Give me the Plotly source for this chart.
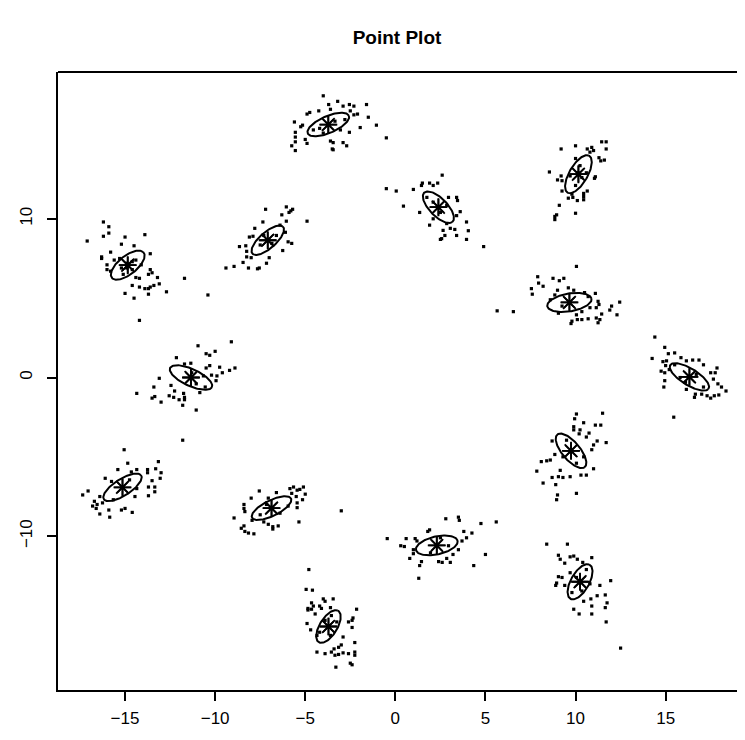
import numpy as np
import plotly.graph_objects as go

# ---- data ----
pts_01 = [(-4.0,17.75),(-3.7,17.2),(-3.2,17.4),(-2.9,17.1),(-2.55,17.2),(-2.3,17.1),(-1.6,17.2),(-2.5,16.8),
          (-2.1,16.6),(-2.3,16.55),(-1.5,16.4),(-4.9,16.6),(-4.75,16.7),(-4.25,16.8),(-3.6,16.9),(-5.6,16.1),
          (-5.15,15.9),(-5.25,15.8),(-5.55,15.45),(-5.55,15.15),(-5.0,15.0),(-5.55,14.85),(-5.75,14.6),(-5.55,14.3),
          (-4.9,14.75),(-3.6,14.9),(-3.45,14.8),(-2.9,14.8),(-2.7,14.6),(-3.5,14.4),(-3.45,14.35),(-2.55,15.45),
          (-1.95,15.75),(-1.05,15.9),(-0.5,15.1),(-4.55,15.6),(-4.2,15.7),(-3.35,16.15),(-3.05,15.6),(-4.0,15.4),
          (-2.8,16.25)]
pts_02 = [(10.0,14.6),(9.2,14.4),(10.65,14.4),(10.9,14.5),(11.0,14.3),(10.8,14.2),(11.45,14.85),(11.7,14.85),
          (11.7,14.4),(11.3,13.85),(11.4,13.65),(11.6,13.7),(10.0,13.8),(8.55,12.95),(9.2,12.7),(9.0,12.45),
          (9.25,12.4),(11.05,12.55),(11.1,12.65),(9.25,11.75),(9.8,11.55),(9.6,11.3),(9.85,11.35),(10.1,11.15),
          (10.45,11.4),(10.45,11.2),(10.45,11.6),(10.65,11.75),(9.1,10.85),(8.85,10.15),(8.95,10.25),(8.85,9.95),
          (10.0,10.35),(10.25,13.35),(10.35,12.6),(10.0,12.1),(9.7,12.7),(10.6,12.9),(10.15,12.9)]
pts_03 = [(2.6,12.75),(1.5,12.25),(1.45,12.1),(2.1,12.1),(2.35,12.25),(1.9,12.25),(-0.5,11.9),(0.05,11.75),
          (1.0,11.85),(0.45,10.8),(1.35,10.4),(1.75,11.35),(2.95,11.35),(3.4,11.35),(3.45,11.15),(3.6,10.45),
          (3.4,10.2),(1.9,9.6),(2.85,9.7),(3.05,9.4),(2.65,9.27),(3.3,9.33),(3.95,9.8),(4.05,9.25),(3.4,8.95),
          (2.75,8.95),(2.57,8.75),(2.5,8.7),(3.95,8.7),(4.9,8.25),(2.1,11.05),(2.5,10.4),(2.85,10.85),(2.1,10.0)]
pts_04 = [(-7.2,10.6),(-6.05,10.75),(-5.8,10.5),(-5.7,10.6),(-5.9,10.4),(-6.3,10.25),(-6.05,9.85),(-4.9,9.85),
          (-7.35,9.8),(-7.8,9.4),(-8.1,8.85),(-7.9,8.9),(-8.65,8.25),(-8.3,8.3),(-8.25,7.95),(-8.25,7.6),
          (-8.0,7.55),(-8.45,7.25),(-8.15,6.9),(-8.95,7.0),(-9.4,6.9),(-7.65,6.85),(-7.55,6.9),(-7.15,7.2),
          (-7.0,7.55),(-6.25,8.0),(-5.95,8.55),(-5.75,8.45),(-6.1,9.15),(-6.4,9.6),(-6.85,8.45),(-7.5,8.35),
          (-6.6,8.95),(-7.3,8.95),(-10.4,5.2)]
pts_05 = [(-16.2,9.8),(-15.9,9.5),(-15.9,9.1),(-16.2,8.9),(-17.1,8.6),(-15.0,8.85),(-13.9,9.0),(-15.2,8.4),
          (-14.5,8.3),(-15.8,7.9),(-16.3,7.6),(-16.3,7.5),(-16.0,6.8),(-15.8,6.7),(-16.0,7.1),(-15.6,7.4),
          (-15.3,7.5),(-13.6,7.8),(-13.6,6.8),(-13.5,6.6),(-13.7,6.5),(-13.2,6.3),(-11.7,6.25),(-13.1,5.9),
          (-13.4,5.8),(-13.6,5.7),(-13.7,5.6),(-13.9,5.6),(-14.2,5.7),(-14.6,5.8),(-12.7,5.4),(-15.0,5.3),
          (-13.7,5.25),(-14.5,5.0),(-14.2,6.25),(-14.4,6.3),(-15.1,6.5),(-14.6,7.3),(-14.4,7.4),(-14.1,7.1),
          (-14.9,6.9),(-14.9,7.2),(-14.6,6.8),(-15.2,6.9),(-14.2,3.6)]
pts_06 = [(10.05,7.0),(7.9,6.35),(7.95,5.95),(8.2,5.75),(8.75,6.25),(9.1,6.1),(9.35,6.25),(7.55,5.6),
          (7.6,5.25),(6.55,4.15),(5.65,4.2),(9.0,5.5),(9.6,5.65),(9.9,5.5),(10.5,5.35),(11.1,5.3),(8.6,4.9),
          (10.7,5.1),(11.25,4.8),(11.3,4.6),(10.8,4.4),(11.15,4.4),(12.0,4.5),(12.45,4.75),(11.9,4.25),
          (12.3,3.95),(11.45,4.0),(11.15,3.75),(11.35,3.65),(11.25,3.45),(10.7,3.7),(10.35,3.65),(10.1,3.65),
          (9.8,3.55),(9.75,3.4),(9.05,4.05),(10.05,3.95),(10.35,4.15),(9.25,4.5),(8.85,5.2)]
pts_07 = [(-10.95,2.0),(-9.1,2.25),(-10.5,1.5),(-10.3,1.4),(-10.0,1.65),(-12.15,1.25),(-11.35,0.9),(-11.7,0.85),
          (-10.3,0.75),(-10.5,0.6),(-9.75,0.65),(-9.2,0.45),(-8.9,0.6),(-9.6,0.3),(-9.9,0.1),(-10.2,0.15),
          (-9.95,-0.2),(-13.1,-0.05),(-13.4,-0.6),(-14.35,-1.0),(-13.35,-1.2),(-13.5,-1.3),(-13.0,-1.55),
          (-12.45,-0.5),(-12.25,-0.85),(-12.55,-1.15),(-12.3,-1.25),(-12.0,-1.4),(-11.75,-1.0),(-11.7,-1.25),
          (-11.7,-1.4),(-11.8,-1.75),(-11.05,-2.05),(-10.55,-0.6),(-10.85,-0.95),(-11.05,-0.4),(-11.3,0.3),
          (-10.65,0.1),(-11.8,-3.95)]
pts_08 = [(14.4,2.55),(14.95,1.9),(14.25,1.2),(15.15,1.5),(15.5,1.55),(15.85,1.25),(14.85,1.0),(15.05,1.05),
          (15.0,0.75),(15.2,0.5),(14.75,0.4),(14.95,0.3),(15.5,0.8),(16.15,1.05),(16.5,1.1),(16.85,1.1),
          (17.1,0.8),(14.95,-0.2),(14.9,-0.6),(17.5,0.3),(17.75,0.3),(17.85,0.6),(17.65,-0.1),(17.9,-0.4),
          (18.1,-0.6),(18.35,-0.85),(17.95,-1.1),(17.7,-1.15),(17.5,-1.3),(17.3,-1.15),(17.0,-1.05),
          (16.65,-1.05),(16.6,-1.25),(16.15,-0.75),(15.45,-2.5),(15.8,0.0),(16.7,0.2),(16.1,-0.3),(17.1,-0.6)]
pts_09 = [(10.05,-2.3),(9.95,-2.6),(11.5,-2.25),(10.45,-2.85),(9.9,-3.1),(9.9,-3.3),(10.25,-3.3),(11.1,-3.0),
          (11.4,-3.0),(10.75,-3.5),(10.2,-3.55),(10.6,-3.75),(8.7,-4.0),(11.2,-4.0),(11.7,-4.1),(11.0,-4.25),
          (10.9,-4.55),(8.85,-4.85),(8.1,-5.3),(8.4,-5.25),(8.6,-5.2),(7.85,-5.9),(9.15,-5.85),(11.0,-5.75),
          (10.3,-6.15),(10.6,-6.15),(8.7,-6.3),(9.05,-6.25),(9.3,-6.3),(9.7,-6.25),(8.2,-6.65),(8.9,-6.75),
          (9.0,-7.4),(8.95,-7.7),(10.05,-7.3),(9.5,-3.95),(9.3,-5.0),(10.05,-5.4),(10.45,-5.0)]
pts_10 = [(-15.05,-4.55),(-14.85,-5.4),(-15.4,-5.8),(-14.65,-5.95),(-14.35,-5.8),(-13.75,-5.8),(-13.75,-6.0),
          (-13.15,-5.3),(-13.3,-5.75),(-13.0,-6.0),(-13.05,-6.35),(-13.5,-6.5),(-16.1,-6.35),(-15.75,-6.55),
          (-13.35,-6.9),(-13.7,-6.9),(-13.35,-7.2),(-13.7,-7.45),(-17.05,-7.15),(-17.35,-7.4),(-16.4,-7.5),
          (-16.7,-7.8),(-16.55,-8.0),(-16.8,-8.1),(-16.6,-8.25),(-16.25,-7.9),(-16.4,-8.6),(-15.9,-8.35),
          (-15.85,-8.8),(-15.2,-8.35),(-15.0,-8.25),(-14.6,-8.5),(-15.65,-7.7),(-14.45,-7.5),(-14.35,-7.0),
          (-14.75,-6.45)]
pts_11 = [(-7.55,-7.15),(-8.0,-7.6),(-7.05,-7.6),(-6.6,-7.25),(-5.85,-7.0),(-5.65,-6.9),(-5.45,-7.1),
          (-5.3,-7.05),(-5.1,-6.9),(-5.75,-7.3),(-5.5,-7.5),(-5.0,-7.35),(-5.15,-7.7),(-5.45,-7.9),(-5.45,-8.2),
          (-3.0,-8.4),(-8.4,-8.0),(-8.4,-8.25),(-8.35,-8.45),(-8.95,-8.85),(-7.95,-9.0),(-8.4,-9.35),
          (-8.55,-9.5),(-8.35,-9.7),(-8.15,-9.8),(-7.85,-9.85),(-7.3,-9.1),(-7.05,-9.25),(-6.8,-9.4),
          (-6.5,-9.35),(-6.8,-9.55),(-5.35,-9.1),(-7.5,-8.65),(-6.4,-8.55),(-5.95,-8.1),(-7.15,-8.0)]
pts_12 = [(2.8,-8.9),(3.5,-8.8),(3.55,-9.0),(4.75,-9.2),(5.6,-9.1),(1.9,-9.6),(1.8,-9.7),(3.8,-9.7),
          (4.25,-9.8),(-0.45,-10.15),(0.6,-10.15),(1.1,-10.15),(1.2,-10.3),(0.3,-10.6),(0.5,-10.65),
          (1.0,-10.85),(3.95,-10.1),(3.7,-10.3),(3.5,-10.85),(1.0,-11.1),(0.8,-11.4),(1.45,-11.6),(1.35,-11.85),
          (2.4,-11.6),(2.6,-11.65),(3.05,-11.65),(2.85,-11.4),(3.2,-11.15),(5.0,-11.15),(4.35,-11.85),
          (1.3,-12.65),(2.5,-10.1),(1.95,-11.05),(2.95,-10.6)]
pts_13 = [(8.4,-10.5),(9.55,-10.5),(9.05,-11.2),(9.15,-11.45),(9.7,-11.3),(9.9,-11.25),(10.1,-11.45),
          (9.4,-11.7),(10.4,-11.65),(10.9,-11.35),(9.05,-12.55),(9.25,-12.6),(8.95,-12.95),(8.9,-13.1),
          (9.4,-13.1),(11.35,-13.1),(11.95,-12.8),(11.2,-13.75),(11.65,-13.7),(11.75,-14.2),(11.65,-14.5),
          (9.9,-14.6),(10.9,-14.4),(10.45,-14.1),(10.85,-13.95),(10.2,-14.9),(10.9,-14.9),(11.7,-15.4),
          (12.5,-17.05),(9.7,-12.3),(10.05,-12.6),(10.6,-12.1),(10.8,-13.0),(9.8,-13.55),(10.35,-13.45)]
pts_14 = [(-4.8,-12.1),(-4.95,-13.35),(-4.6,-13.4),(-4.65,-14.2),(-4.55,-14.4),(-4.85,-14.55),(-4.85,-14.65),
          (-4.65,-14.6),(-4.0,-13.95),(-3.9,-14.1),(-3.45,-13.95),(-4.2,-14.4),(-4.1,-14.55),(-3.6,-14.5),
          (-4.45,-14.9),(-2.15,-14.6),(-2.35,-15.15),(-2.4,-15.3),(-2.6,-15.4),(-2.4,-15.75),(-4.9,-15.5),
          (-4.7,-15.9),(-4.35,-16.25),(-2.9,-16.35),(-2.25,-16.7),(-3.0,-16.85),(-3.15,-17.0),(-3.4,-17.1),
          (-4.35,-17.3),(-3.9,-17.4),(-3.55,-17.3),(-3.35,-17.5),(-3.15,-17.45),(-2.9,-17.35),(-2.6,-17.4),
          (-2.25,-17.3),(-2.25,-17.5),(-2.5,-18.0),(-2.4,-18.1),(-3.3,-18.25),(-4.2,-16.05),(-3.6,-16.25),
          (-3.25,-15.4),(-3.9,-15.3),(-3.55,-15.0)]

all_points = [pts_01, pts_02, pts_03, pts_04, pts_05, pts_06, pts_07,
              pts_08, pts_09, pts_10, pts_11, pts_12, pts_13, pts_14]

# cluster centres (star marks)
center_x = [-3.72, 10.16, 2.39, -7.08, -14.85, 9.66, -11.34, 16.32, 9.75, -15.14, -6.87, 2.3, 10.25, -3.71]
center_y = [15.94, 12.81, 10.73, 8.65, 7.08, 4.73, 0.0, 0.04, -4.62, -6.92, -8.23, -10.58, -12.87, -15.69]

# ellipse parameters: semi-major, semi-minor (data units), angle (deg)
ell_a = [1.27, 1.31, 1.21, 1.20, 1.19, 1.25, 1.31, 1.30, 1.28, 1.28, 1.24, 1.19, 1.20, 1.13]
ell_b = [0.52, 0.52, 0.52, 0.48, 0.55, 0.56, 0.52, 0.50, 0.52, 0.50, 0.48, 0.56, 0.52, 0.50]
ell_ang = [27, 64, -51, 46, 44, 11.5, -28.5, -36, -55, 37, 30, 15, 65, 63]

x_ticks = [-15, -10, -5, 0, 5, 10, 15]
y_ticks = [-10, 0, 10]

# ---- figure ----
fig = go.Figure()

px_all = [p[0] for pts in all_points for p in pts]
py_all = [p[1] for pts in all_points for p in pts]
fig.add_trace(go.Scatter(x=px_all, y=py_all, mode="markers",
                         marker=dict(symbol="square", size=3.2, color="black", line=dict(width=0)),
                         hoverinfo="x+y", showlegend=False))

t = np.linspace(0, 2 * np.pi, 121)
for cx, cy, a, b, ang in zip(center_x, center_y, ell_a, ell_b, ell_ang):
    th = np.deg2rad(ang)
    ex = cx + a * np.cos(t) * np.cos(th) - b * np.sin(t) * np.sin(th)
    ey = cy + a * np.cos(t) * np.sin(th) + b * np.sin(t) * np.cos(th)
    fig.add_trace(go.Scatter(x=ex, y=ey, mode="lines", line=dict(color="black", width=2),
                             hoverinfo="skip", showlegend=False))

for sym, sz in [("asterisk-open", 15), ("x-thin-open", 11), ("cross-thin-open", 12)]:
    fig.add_trace(go.Scatter(x=center_x, y=center_y, mode="markers",
                             marker=dict(symbol=sym, size=sz, color="black",
                                         line=dict(color="black", width=1.8)),
                             hoverinfo="skip", showlegend=False))

# top border of the box (the right side of the box lies outside the picture)
fig.add_shape(type="line", xref="paper", yref="paper", x0=0, x1=1, y0=1, y1=1,
              line=dict(color="black", width=2))

# page body adds an 8px offset, so the figure is shifted and sized to fit the window
fig.update_layout(
    width=729, height=720,
    margin=dict(l=50, r=0, t=64, b=33),
    plot_bgcolor="white", paper_bgcolor="white",
    font=dict(family="Liberation Sans, Arial, sans-serif", size=17, color="black"),
    title=dict(text="<b>Point Plot</b>", x=(397 - 8) / 729, xanchor="center", y=1 - 29 / 720, yanchor="middle",
               font=dict(size=19, color="black")),
)
tickfont = dict(family="Liberation Sans, Arial, sans-serif", size=17, color="black")
fig.update_xaxes(range=[-18.72, 18.96], tickvals=x_ticks, ticktext=[str(v).replace("-", "\u2212") for v in x_ticks],
                 showgrid=False, zeroline=False, showline=True, linecolor="black", linewidth=2,
                 mirror=False, ticks="outside", ticklen=9, tickwidth=2, tickcolor="black",
                 tickfont=tickfont, ticklabelstandoff=3)
fig.update_yaxes(range=[-19.69, 19.25], tickvals=y_ticks, ticktext=[str(v).replace("-", "\u2212") for v in y_ticks],
                 showgrid=False, zeroline=False, showline=True, linecolor="black", linewidth=2,
                 mirror=False, ticks="outside", ticklen=9, tickwidth=2, tickcolor="black",
                 tickfont=tickfont, tickangle=-90, ticklabelstandoff=8)

fig.write_html("out.html")
